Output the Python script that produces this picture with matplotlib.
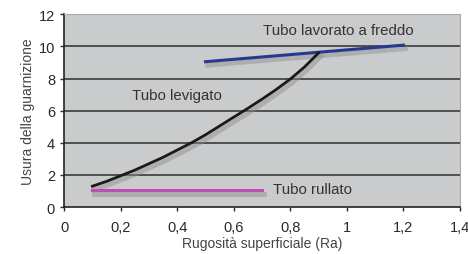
import numpy as np
import matplotlib.pyplot as plt
import matplotlib.patheffects as pe

# Dati
freddo_x = [0.5, 1.2]
freddo_y = [9.05, 10.08]

levigato_x = [0.1, 0.15, 0.2, 0.25, 0.3, 0.35, 0.4, 0.45, 0.5, 0.55, 0.6, 0.65,
              0.7, 0.75, 0.8, 0.85, 0.9]
levigato_y = [1.3, 1.6, 1.95, 2.3, 2.7, 3.1, 3.55, 4.0, 4.5, 5.05, 5.6, 6.15,
              6.72, 7.32, 7.97, 8.72, 9.6]

rullato_x = [0.1, 0.7]
rullato_y = [1.05, 1.05]

xticks = [0, 0.2, 0.4, 0.6, 0.8, 1, 1.2, 1.4]
xlabels = ['0', '0,2', '0,4', '0,6', '0,8', '1', '1,2', '1,4']
yticks = [0, 2, 4, 6, 8, 10, 12]

plt.rcParams['font.family'] = ['Liberation Sans', 'DejaVu Sans']

fig = plt.figure(figsize=(4.68, 2.55), dpi=100)
ax = fig.add_axes([0.137, 0.184, 0.846, 0.756])
ax.set_facecolor('#c9cbcc')

ombra = [pe.SimpleLineShadow(offset=(1.5, -2.5), shadow_color='#8a8c8d', alpha=0.45, linewidth=3.5), pe.Normal()]

for y in yticks[1:]:
    ax.axhline(y, color='#3a3a3a' if y < 12 else '#9a9c9d', lw=1.2, zorder=1)

ax.plot(freddo_x, freddo_y, color='#283a8c', lw=2.2, path_effects=ombra, zorder=3)
ax.plot(levigato_x, levigato_y, color='#1a1a1a', lw=2.0, path_effects=ombra, zorder=3)
ax.plot(rullato_x, rullato_y, color='#c04eb2', lw=2.2, path_effects=ombra, zorder=3)

ax.text(0.97, 11.05, 'Tubo lavorato a freddo', ha='center', va='center', fontsize=10.8, color='#333333')
ax.text(0.40, 7.0, 'Tubo levigato', ha='center', va='center', fontsize=10.8, color='#333333')
ax.text(0.74, 1.1, 'Tubo rullato', ha='left', va='center', fontsize=10.8, color='#333333')

ax.set_xlim(0, 1.4)
ax.set_ylim(0, 12)
ax.set_xticks(xticks)
ax.set_xticklabels(xlabels)
ax.set_yticks(yticks)
ax.tick_params(labelsize=10.5, colors='#2a2a2a', length=3, width=1)
ax.tick_params(axis='x', pad=6)
ax.set_xlabel('Rugosità superficiale (Ra)', fontsize=10, color='#444444', labelpad=2)
ax.set_ylabel('Usura della guarnizione', fontsize=10, color='#444444', labelpad=3)

for s in ['top', 'right']:
    ax.spines[s].set_color('#aaaaaa')
for s in ['left', 'bottom']:
    ax.spines[s].set_color('#222222')
    ax.spines[s].set_linewidth(1.2)

fig.savefig('out.png', dpi=100)
